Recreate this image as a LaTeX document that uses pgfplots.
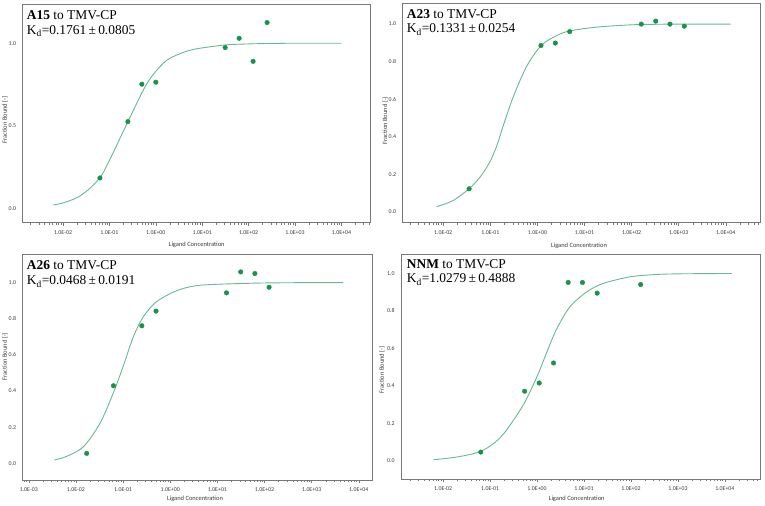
\documentclass[border=0pt]{standalone}
\usepackage{pgfplots}
\pgfplotsset{compat=1.18}
\usepackage{fontspec}
\setmainfont{Liberation Serif}
\newfontfamily\tickfont{Carlito}
\definecolor{ptcol}{RGB}{22,148,76}
\definecolor{fitcol}{RGB}{104,184,146}
\definecolor{framecol}{RGB}{120,120,120}
\definecolor{txtcol}{RGB}{60,60,60}

\pgfplotsset{
  mypanel/.style={
    scale only axis, anchor=south west,
    axis line style={framecol, line width=0.8bp},
    tick align=outside,
    major tick length=3bp, minor tick length=2bp,
    xtick style={framecol, line width=0.5bp},
    minor tick style={framecol, line width=0.5bp},
    ytick style={draw=none},
    xtick pos=bottom, ytick pos=left,
    ticklabel style={font=\tickfont\fontsize{5.9}{6.5}\selectfont, text=txtcol},
    xticklabel style={yshift=-1.5bp},
    minor xtick={2e-4,3e-4,4e-4,5e-4,6e-4,7e-4,8e-4,9e-4,
      2e-3,3e-3,4e-3,5e-3,6e-3,7e-3,8e-3,9e-3,
      2e-2,3e-2,4e-2,5e-2,6e-2,7e-2,8e-2,9e-2,
      0.2,0.3,0.4,0.5,0.6,0.7,0.8,0.9,
      2,3,4,5,6,7,8,9,
      20,30,40,50,60,70,80,90,
      200,300,400,500,600,700,800,900,
      2000,3000,4000,5000,6000,7000,8000,9000,
      20000,30000,40000,50000,60000,70000,80000,90000},
    xtick={1e-2,1e-1,1,10,100,1000,10000},
    xticklabels={1.0E-02,1.0E-01,1.0E+00,1.0E+01,1.0E+02,1.0E+03,1.0E+04},
    ytick={0,0.2,0.4,0.6,0.8,1},
    yticklabels={0.0,0.2,0.4,0.6,0.8,1.0},
  },
  myfit/.style={fitcol, line width=0.9bp, smooth, no marks},
  mypts/.style={only marks, mark=*, mark size=2.3bp, mark options={draw=ptcol, fill=ptcol}},
}
\newcommand{\axlab}{\tickfont\fontsize{6.5}{7}\selectfont\color{txtcol}}
\newcommand{\ttl}{\fontsize{13.5}{15}\selectfont}

\begin{document}
\begin{tikzpicture}
\path[use as bounding box] (0,0) rectangle (765bp,506bp);

% ---------------- Panel 1: A15 ----------------
\begin{axis}[xmode=log, log basis x=10, mypanel, at={(22.7bp,283.3bp)}, width=348bp, height=218.7bp,
  xmin=1.352e-3, xmax=4.276e4, ymin=-0.083, ymax=1.237,
  ytick={0,0.5,1}, yticklabels={0.0,0.5,1.0}]
\addplot[myfit] coordinates {
(0.006166,0.024) (0.01,0.036) (0.019953,0.068) (0.035481,0.117) (0.063096,0.19)
(0.089125,0.265) (0.125893,0.35) (0.177828,0.44) (0.251189,0.527) (0.354813,0.615)
(0.537032,0.718) (0.794328,0.795) (1.230269,0.859) (1.778279,0.90) (2.818383,0.929)
(5.011872,0.955) (8.912509,0.970) (31.622777,0.99) (100,0.996) (316.23,0.999)
(1000,1.0) (10000,1.0)};
\addplot[mypts] coordinates {
(0.0625,0.187) (0.25,0.527) (0.5,0.753) (1,0.765) (31.25,0.974) (62.5,1.030) (125,0.891) (250,1.125)};
\end{axis}

% ---------------- Panel 2: A23 ----------------
\begin{axis}[xmode=log, log basis x=10, mypanel, at={(402.7bp,283.3bp)}, width=357.3bp, height=219.4bp,
  xmin=1.380e-3, xmax=5.32e4, ymin=-0.0587, ymax=1.111]
\addplot[myfit] coordinates {
(0.0072444,0.027) (0.015849,0.058) (0.035481,0.123) (0.063096,0.19) (0.1,0.27)
(0.141254,0.36) (0.190546,0.463) (0.309030,0.614) (0.588844,0.774) (1.202264,0.886)
(2.570396,0.939) (4.897788,0.964) (18.197,0.984) (93.325,0.996) (316.23,0.999)
(1000,1.0) (12589,1.0)};
\addplot[mypts] coordinates {
(0.0355,0.122) (1.19,0.886) (2.4,0.899) (4.85,0.960) (160.7,1.0) (325,1.016) (653,1.0) (1315,0.989)};
\end{axis}

% ---------------- Panel 3: A26 ----------------
\begin{axis}[xmode=log, log basis x=10, mypanel, at={(22.7bp,26bp)}, width=350bp, height=226bp,
  xmin=7.43e-4, xmax=1.972e4, ymin=-0.0924, ymax=1.158,
  xtick={1e-3,1e-2,1e-1,1,10,100,1000,10000},
  xticklabels={1.0E-03,1.0E-02,1.0E-01,1.0E+00,1.0E+01,1.0E+02,1.0E+03,1.0E+04}]
\addplot[myfit] coordinates {
(0.0034674,0.018) (0.0063096,0.038) (0.014454,0.092) (0.032359,0.221) (0.061660,0.387)
(0.1,0.535) (0.165959,0.701) (0.269153,0.811) (0.512861,0.894) (1.380384,0.955)
(4.265795,0.985) (48.977882,0.996) (316.23,0.999) (4677.35,1.0)};
\addplot[mypts] coordinates {
(0.0169,0.055) (0.0625,0.429) (0.25,0.761) (0.5,0.842) (15.625,0.943) (31.25,1.059) (62.5,1.050) (125,0.974)};
\end{axis}

% ---------------- Panel 4: NNM ----------------
\begin{axis}[xmode=log, log basis x=10, mypanel, at={(401bp,27bp)}, width=359bp, height=225bp,
  xmin=1.262e-3, xmax=5.61e4, ymin=-0.0977, ymax=1.104]
\addplot[myfit] coordinates {
(0.006166,0.005) (0.019953,0.02) (0.060256,0.048) (0.125893,0.097) (0.223872,0.164)
(0.512861,0.30) (1.0,0.45) (1.584893,0.575) (2.630268,0.705) (5.011872,0.822)
(11.481536,0.902) (25.703958,0.947) (95.499259,0.982) (316.23,0.994) (1000,0.998)
(14125,1.0)};
\addplot[mypts] coordinates {
(0.0631,0.046) (0.543,0.371) (1.109,0.415) (2.239,0.522) (4.592,0.952) (9.268,0.952) (19.05,0.895) (161,0.941)};
\end{axis}

% ---------------- Titles ----------------
\node[anchor=base west, inner sep=0, font=\ttl] at (26.7bp,486.5bp) {\textbf{A15} to TMV-CP};
\node[anchor=base west, inner sep=0, font=\ttl] at (26.7bp,471.3bp) {K\textsubscript{d}=0.1761\,±\,0.0805};
\node[anchor=base west, inner sep=0, font=\ttl] at (406.7bp,487.8bp) {\textbf{A23} to TMV-CP};
\node[anchor=base west, inner sep=0, font=\ttl] at (406.7bp,473.1bp) {K\textsubscript{d}=0.1331\,±\,0.0254};
\node[anchor=base west, inner sep=0, font=\ttl] at (26.7bp,236.1bp) {\textbf{A26} to TMV-CP};
\node[anchor=base west, inner sep=0, font=\ttl] at (26.7bp,221.1bp) {K\textsubscript{d}=0.0468\,±\,0.0191};
\node[anchor=base west, inner sep=0, font=\ttl] at (406.7bp,237.8bp) {\textbf{NNM} to TMV-CP};
\node[anchor=base west, inner sep=0, font=\ttl] at (406.7bp,223.1bp) {K\textsubscript{d}=1.0279\,±\,0.4888};

% ---------------- Axis labels ----------------
\node[font=\axlab] at (196.7bp,261.3bp) {Ligand Concentration};
\node[font=\axlab] at (579bp,260bp) {Ligand Concentration};
\node[font=\axlab] at (195bp,6.7bp) {Ligand Concentration};
\node[font=\axlab] at (576.7bp,6.7bp) {Ligand Concentration};
\node[font=\axlab, rotate=90] at (5bp,386bp) {Fraction Bound [-]};
\node[font=\axlab, rotate=90] at (385.3bp,385.3bp) {Fraction Bound [-]};
\node[font=\axlab, rotate=90] at (5bp,149.3bp) {Fraction Bound [-]};
\node[font=\axlab, rotate=90] at (382bp,136bp) {Fraction Bound [-]};
\end{tikzpicture}
\end{document}
